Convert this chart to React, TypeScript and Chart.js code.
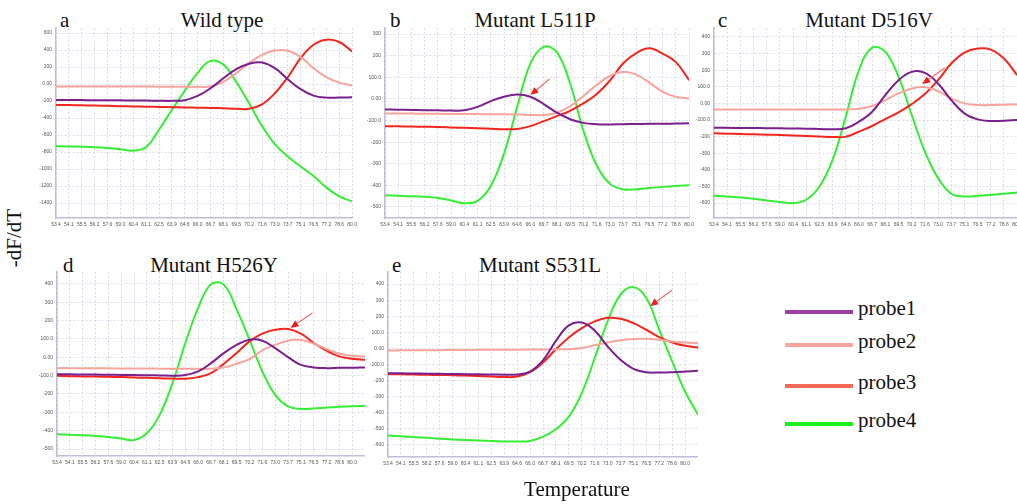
import React, { useEffect, useRef } from "react";
import { Chart, registerables } from "chart.js";

Chart.register(...registerables);

// ---------- shared axis / legend data ----------
const tempLabels = [
  "53.4", "54.1", "55.5", "56.2", "57.6", "59.0", "60.4", "61.1", "62.5", "63.9", "64.6", "66.0",
  "66.7", "68.1", "69.5", "70.2", "71.6", "73.0", "73.7", "75.1", "76.5", "77.2", "78.6", "80.0",
];
const probeNames = ["probe1", "probe2", "probe3", "probe4"];
const probeColors = ["#7a1f8b", "#f8a49c", "#f2261c", "#34ee34"];
const legendColors = ["#9b3fa2", "#f7a69d", "#f06a55", "#1df01d"];

// ---------- a: Wild type ----------
const aProbe1 = [-187, -188, -189, -190, -191, -192, -193, -195, -197, -198, -190, -140, -50, 68, 175, 238, 254, 187, 57, -61, -136, -160, -160, -156];
const aProbe2 = [-30, -30, -30, -30, -30, -30, -30, -30, -31, -31, -32, -32, -30, 24, 128, 246, 344, 395, 391, 317, 187, 80, 17, -18];
const aProbe3 = [-246, -248, -251, -254, -257, -260, -263, -266, -269, -272, -275, -278, -281, -285, -290, -292, -240, -109, 80, 305, 462, 521, 494, 383];
const aProbe4 = [-731, -734, -738, -743, -752, -766, -784, -740, -538, -305, -81, 132, 272, 228, 25, -227, -494, -707, -853, -971, -1081, -1219, -1321, -1380];
const aYTicks = [600, 400, 200, 0, -200, -400, -600, -800, -1000, -1200, -1400];
const aYLabels = ["600", "400", "200", "0.00", "-200", "-400", "-600", "-800", "-1000", "-1200", "-1400"];

// ---------- b: Mutant L511P ----------
const bProbe1 = [-49, -50, -51, -52, -53, -54, -53, -37, -10, 10, 20, 10, -24, -64, -94, -111, -117, -118, -117, -116, -115, -115, -114, -113];
const bProbe2 = [-68, -68, -68, -69, -69, -70, -70, -70, -71, -71, -72, -74, -75, -64, -34, 13, 64, 107, 125, 112, 75, 33, 10, 2];
const bProbe3 = [-126, -127, -128, -129, -130, -132, -134, -136, -138, -140, -139, -126, -103, -80, -55, -21, 22, 84, 164, 212, 234, 209, 170, 87];
const bProbe4 = [-446, -448, -450, -453, -458, -470, -483, -472, -403, -253, -37, 164, 241, 215, 71, -145, -307, -392, -418, -418, -412, -407, -403, -400];
const bYTicks = [300, 200, 100, 0, -100, -200, -300, -400, -500];
const bYLabels = ["300", "200", "100.0", "0.00", "-100.0", "-200", "-300", "-400", "-500"];

// ---------- c: Mutant D516V ----------
const cProbe1 = [-146, -147, -148, -148, -149, -150, -151, -152, -154, -156, -150, -110, -50, 50, 140, 190, 184, 120, 20, -60, -96, -106, -104, -100];
const cProbe2 = [-36, -36, -36, -36, -36, -36, -36, -36, -36, -36, -36, -32, -16, 20, 60, 90, 98, 74, 30, 0, -10, -10, -8, -6];
const cProbe3 = [-180, -182, -184, -186, -188, -190, -193, -196, -199, -202, -200, -170, -136, -94, -54, -4, 56, 140, 240, 306, 330, 324, 270, 170];
const cProbe4 = [-556, -560, -566, -574, -584, -594, -600, -580, -500, -340, -80, 200, 336, 310, 160, -70, -290, -450, -544, -560, -556, -550, -544, -536];
const cYTicks = [400, 300, 200, 100, 0, -100, -200, -300, -400, -500, -600];
const cYLabels = ["400", "300", "200", "100.0", "0.00", "-100.0", "-200", "-300", "-400", "-500", "-600"];

// ---------- d: Mutant H526Y ----------
const dProbe1 = [-92, -93, -94, -94, -95, -96, -97, -98, -99, -100, -97, -77, -32, 23, 68, 96, 90, 50, 1, -41, -55, -59, -57, -57, -55];
const dProbe2 = [-59, -59, -60, -60, -60, -61, -61, -61, -62, -62, -62, -63, -63, -55, -35, -10, 38, 68, 90, 94, 74, 45, 19, 8, 5];
const dProbe3 = [-101, -103, -104, -105, -106, -108, -110, -112, -114, -116, -117, -108, -86, -35, 23, 87, 129, 150, 154, 129, 78, 36, 5, -8, -13];
const dProbe4 = [-420, -422, -425, -429, -434, -443, -451, -414, -314, -141, 78, 269, 398, 396, 260, 96, -77, -205, -268, -281, -279, -274, -270, -267, -265];
const dYTicks = [400, 300, 200, 100, 0, -100, -200, -300, -400, -500];
const dYLabels = ["400", "300", "200", "100.0", "0.00", "-100.0", "-200", "-300", "-400", "-500"];

// ---------- e: Mutant S531L ----------
const eProbe1 = [-154, -155, -156, -157, -158, -159, -160, -161, -162, -163, -162, -144, -75, 47, 143, 161, 112, 12, -71, -127, -148, -150, -148, -144, -139];
const eProbe2 = [-13, -12, -12, -11, -11, -10, -10, -9, -9, -8, -8, -7, -7, -6, -5, 2, 20, 37, 51, 58, 60, 54, 43, 37, 33];
const eProbe3 = [-160, -161, -162, -164, -165, -167, -169, -172, -175, -178, -175, -148, -88, -5, 68, 126, 168, 190, 184, 157, 116, 70, 37, 16, 6];
const eProbe4 = [-542, -546, -551, -556, -561, -566, -570, -573, -576, -578, -579, -575, -548, -502, -424, -278, -61, 168, 334, 381, 313, 116, -81, -268, -413];
const eYTicks = [400, 300, 200, 100, 0, -100, -200, -300, -400, -500, -600];
const eYLabels = ["400", "300", "200", "100.0", "0.00", "-100.0", "-200", "-300", "-400", "-500", "-600"];

// arrows (tail -> head) in data units [x index, y value]
const bArrow = { tail: [12.44, 92], head: [11.0, 18] };
const cArrow = { tail: [17.5, 213], head: [15.8, 117] };
const dArrow = { tail: [19.9, 242], head: [18.2, 160] };
const eArrow = { tail: [22.0, 363], head: [20.3, 263] };

// ---------- layout ----------
const panels = [
  { letter: "a", title: "Wild type", series: [aProbe1, aProbe2, aProbe3, aProbe4], yTicks: aYTicks, yLabels: aYLabels, yMin: -1576, yMax: 659, xMax: 23, arrow: null,
    plot: { left: 56, top: 28, right: 352, bottom: 218 }, letterX: 60, titleCx: 222, textTop: 10 },
  { letter: "b", title: "Mutant L511P", series: [bProbe1, bProbe2, bProbe3, bProbe4], yTicks: bYTicks, yLabels: bYLabels, yMin: -551, yMax: 328, xMax: 23, arrow: bArrow,
    plot: { left: 385, top: 28, right: 689, bottom: 218 }, letterX: 390, titleCx: 535, textTop: 10 },
  { letter: "c", title: "Mutant D516V", series: [cProbe1, cProbe2, cProbe3, cProbe4], yTicks: cYTicks, yLabels: cYLabels, yMin: -690, yMax: 454, xMax: 23, arrow: cArrow,
    plot: { left: 714, top: 28, right: 1017, bottom: 218 }, letterX: 718, titleCx: 869, textTop: 10 },
  { letter: "d", title: "Mutant H526Y", series: [dProbe1, dProbe2, dProbe3, dProbe4], yTicks: dYTicks, yLabels: dYLabels, yMin: -538, yMax: 465, xMax: 24, arrow: dArrow,
    plot: { left: 57, top: 272, right: 365, bottom: 456 }, letterX: 63, titleCx: 214, textTop: 255 },
  { letter: "e", title: "Mutant S531L", series: [eProbe1, eProbe2, eProbe3, eProbe4], yTicks: eYTicks, yLabels: eYLabels, yMin: -675, yMax: 475, xMax: 24, arrow: eArrow,
    plot: { left: 388, top: 272, right: 698, bottom: 457 }, letterX: 392, titleCx: 540, textTop: 255 },
];

const Y_AXIS_W = 30;
const TOP_PAD = 3;
const X_AXIS_H = 14;
const SERIF = "'Liberation Serif', 'Times New Roman', serif";

const arrowPlugin = {
  id: "meltArrow",
  afterDatasetsDraw(chart: any, _args: any, opts: any) {
    if (!opts || !opts.tail) return;
    const xs = chart.scales.x;
    const ys = chart.scales.y;
    const x1 = xs.getPixelForValue(opts.tail[0]);
    const y1 = ys.getPixelForValue(opts.tail[1]);
    const x2 = xs.getPixelForValue(opts.head[0]);
    const y2 = ys.getPixelForValue(opts.head[1]);
    const ang = Math.atan2(y2 - y1, x2 - x1);
    const c = Math.cos(ang);
    const s = Math.sin(ang);
    const ctx = chart.ctx;
    ctx.save();
    ctx.strokeStyle = "#f36b6b";
    ctx.lineWidth = 1.2;
    ctx.beginPath();
    ctx.moveTo(x1, y1);
    ctx.lineTo(x2 - 5 * c, y2 - 5 * s);
    ctx.stroke();
    ctx.fillStyle = "#ee1c1c";
    ctx.beginPath();
    ctx.moveTo(x2, y2);
    ctx.lineTo(x2 - 8 * c + 3.5 * s, y2 - 8 * s - 3.5 * c);
    ctx.lineTo(x2 - 8 * c - 3.5 * s, y2 - 8 * s + 3.5 * c);
    ctx.closePath();
    ctx.fill();
    ctx.restore();
  },
};

function MeltPanel({ p }: { p: any }) {
  const ref = useRef<HTMLCanvasElement | null>(null);
  const rightPad = p.xMax === tempLabels.length - 1 ? 6 : 0;
  const w = p.plot.right - p.plot.left + Y_AXIS_W + rightPad;
  const h = p.plot.bottom - p.plot.top + TOP_PAD + X_AXIS_H;

  useEffect(() => {
    if (!ref.current) return;
    const tickFont = { size: 5, family: "'Liberation Sans', Arial, sans-serif" };
    const chart = new Chart(ref.current, {
      type: "line",
      data: {
        datasets: p.series.map((vals: number[], k: number) => ({
          label: probeNames[k],
          data: vals.map((y, i) => ({ x: i, y })),
          borderColor: probeColors[k],
          backgroundColor: probeColors[k],
          borderWidth: 2,
          pointRadius: 0,
          tension: 0.4,
          fill: false,
        })),
      },
      plugins: [arrowPlugin],
      options: {
        animation: false,
        responsive: false,
        maintainAspectRatio: false,
        layout: { padding: 0 },
        plugins: {
          legend: { display: false },
          tooltip: { enabled: false },
          meltArrow: p.arrow || false,
        } as any,
        scales: {
          x: {
            type: "linear",
            min: 0,
            max: p.xMax,
            afterBuildTicks: (s: any) => {
              s.ticks = tempLabels.map((_, i) => ({ value: i }));
            },
            afterFit: (s: any) => {
              s.height = X_AXIS_H;
            },
            ticks: {
              autoSkip: false,
              maxRotation: 0,
              minRotation: 0,
              padding: 1,
              font: tickFont,
              color: "#555",
              callback: (_v: any, i: number) => tempLabels[i],
            },
            grid: { color: "#dadaea", lineWidth: 1, drawTicks: true, tickLength: 3, tickColor: "rgba(0,0,0,0)" },
            border: { color: "#bdbde0", width: 1.5, dash: [2, 2] },
          },
          y: {
            type: "linear",
            min: p.yMin,
            max: p.yMax,
            afterBuildTicks: (s: any) => {
              s.ticks = p.yTicks.map((v: number) => ({ value: v }));
            },
            afterFit: (s: any) => {
              s.width = Y_AXIS_W;
            },
            ticks: {
              padding: 0,
              font: tickFont,
              color: "#555",
              callback: (_v: any, i: number) => p.yLabels[i],
            },
            grid: { color: "#dadaea", lineWidth: 1, drawTicks: true, tickLength: 4, tickColor: "rgba(0,0,0,0)" },
            border: { color: "#bdbde0", width: 1.5, dash: [2, 2] },
          },
        },
      } as any,
    });
    return () => chart.destroy();
  }, []);

  return (
    <>
      <div
        style={{
          position: "absolute",
          left: p.letterX,
          top: p.textTop,
          fontFamily: SERIF,
          fontSize: 21,
          lineHeight: "21px",
          color: "#111",
        }}
      >
        {p.letter}
      </div>
      <div
        style={{
          position: "absolute",
          left: p.titleCx,
          top: p.textTop,
          transform: "translateX(-50%)",
          whiteSpace: "nowrap",
          fontFamily: SERIF,
          fontSize: 21,
          lineHeight: "21px",
          color: "#111",
        }}
      >
        {p.title}
      </div>
      <canvas
        ref={ref}
        width={w}
        height={h}
        style={{
          position: "absolute",
          left: p.plot.left - Y_AXIS_W,
          top: p.plot.top - TOP_PAD,
          width: w,
          height: h,
        }}
      />
    </>
  );
}

const legendLineY = [312, 345, 386, 424];

export default function App() {
  return (
    <div
      style={{
        position: "absolute",
        left: 0,
        top: 0,
        width: 1017,
        height: 504,
        overflow: "hidden",
        background: "#fff",
      }}
    >
      {panels.map((p) => (
        <MeltPanel key={p.letter} p={p} />
      ))}
      <div
        style={{
          position: "absolute",
          left: 14,
          top: 238,
          transform: "translate(-50%, -50%) rotate(-90deg)",
          whiteSpace: "nowrap",
          fontFamily: SERIF,
          fontSize: 21,
          lineHeight: "21px",
          color: "#111",
        }}
      >
        -dF/dT
      </div>
      <div
        style={{
          position: "absolute",
          left: 577,
          top: 479,
          transform: "translateX(-50%)",
          whiteSpace: "nowrap",
          fontFamily: SERIF,
          fontSize: 21,
          lineHeight: "21px",
          color: "#111",
        }}
      >
        Temperature
      </div>
      {probeNames.map((name, k) => (
        <React.Fragment key={name}>
          <div
            style={{
              position: "absolute",
              left: 785,
              top: legendLineY[k] - 2,
              width: 68,
              height: 4,
              background: legendColors[k],
            }}
          />
          <div
            style={{
              position: "absolute",
              left: 858,
              top: legendLineY[k] - 14,
              whiteSpace: "nowrap",
              fontFamily: SERIF,
              fontSize: 21,
              lineHeight: "21px",
              color: "#111",
            }}
          >
            {name}
          </div>
        </React.Fragment>
      ))}
    </div>
  );
}
